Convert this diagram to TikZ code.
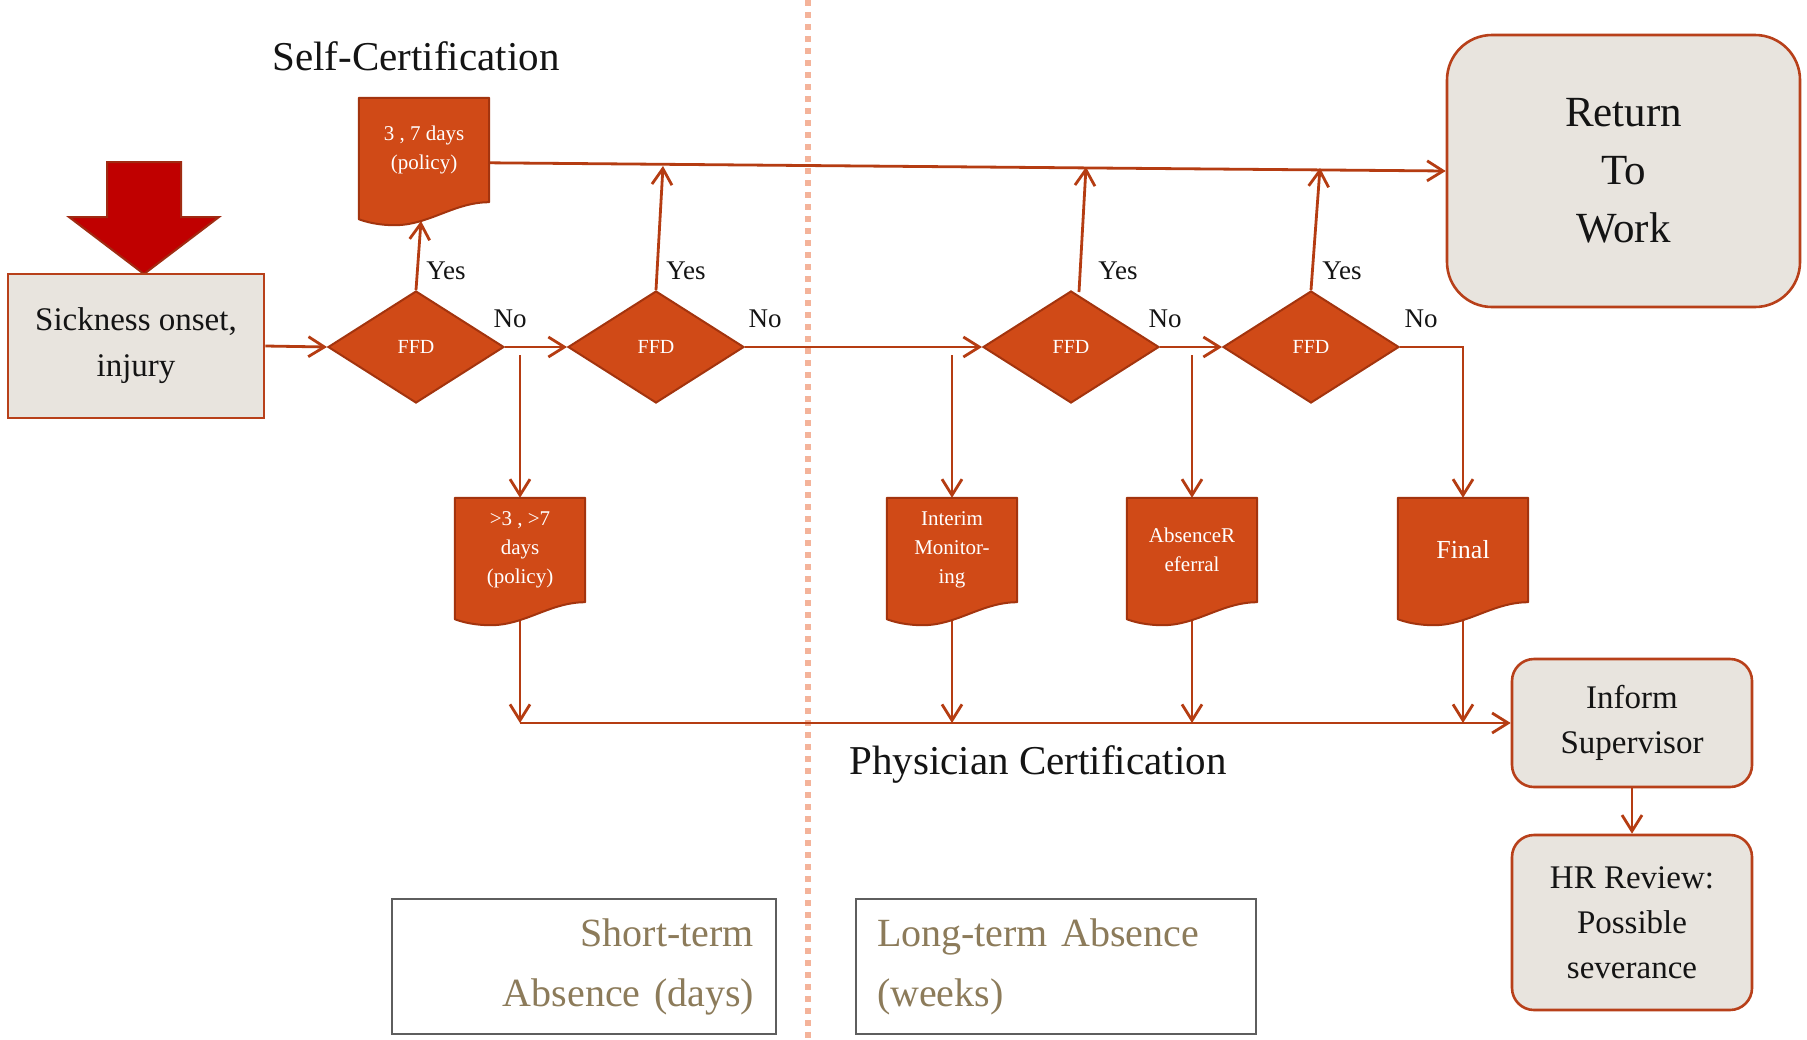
\documentclass[tikz,border=0pt]{standalone}
\usepackage{fontspec}
\setmainfont{Liberation Serif}
\usetikzlibrary{shapes.geometric,arrows.meta,calc}
\pgfdeclarelayer{bg}
\pgfdeclarelayer{mid}
\pgfsetlayers{bg,mid,main}
\definecolor{ofill}{HTML}{D04A17}
\definecolor{oborder}{HTML}{A3340E}
\definecolor{lcol}{HTML}{B53C12}
\definecolor{boxfill}{HTML}{E8E4DE}
\definecolor{boxline}{HTML}{B8401A}
\definecolor{redarr}{HTML}{C00000}
\definecolor{redarrb}{HTML}{A02A12}
\definecolor{dotcol}{HTML}{F4B39A}
\definecolor{khaki}{HTML}{8C7B5A}
\definecolor{termline}{HTML}{5E5E5E}
\definecolor{txt}{HTML}{141414}
\newcommand\fsz[2]{\fontsize{#1}{#2}\selectfont}
\newcommand\docshape[1]{%
  \filldraw[docsh] (#1.north west) -- (#1.north east) -- (#1.south east)
  .. controls ($(#1.south east)+(-35,0)$) and ($(#1.south west)+(70,23)$) .. ($(#1.south west)+(36,23)$)
  .. controls ($(#1.south west)+(20,23)$) and ($(#1.south west)+(8,20)$) .. ($(#1.south west)+(0,17)$) -- cycle;}
\tikzset{
  procbox/.style={draw=boxline, fill=boxfill, line width=2.6pt, align=center, text=txt, inner sep=0pt},
  roundbox/.style={procbox, rounded corners=22pt},
  ffd/.style={diamond, fill=ofill, draw=oborder, line width=2pt, minimum width=176pt, minimum height=112pt, inner sep=0pt, text=white, font=\fsz{20}{24}},
  docnode/.style={minimum width=130pt, minimum height=104pt, inner sep=0pt, align=center, text=white, font=\fsz{21}{29}},
  docsh/.style={fill=ofill, draw=oborder, line width=2pt, line join=round},
  conn/.style={draw=lcol, line width=2.8pt, -{Straight Barb[length=16pt,width=20pt]}},
  lbl/.style={font=\fsz{27}{30}, text=txt, inner sep=0pt},
  ttl/.style={font=\fsz{41}{48}, text=txt, inner sep=0pt},
  termbox/.style={draw=termline, line width=2pt, minimum height=135pt, text=khaki, font=\fsz{40}{60}, inner sep=0pt},
  dotline/.style={draw=dotcol, line width=6pt, dash pattern=on 6pt off 6pt}
}
\begin{document}
\begin{tikzpicture}[x=1pt,y=-1pt]
\useasboundingbox (0,0) rectangle (1807,1039);
\begin{pgfonlayer}{bg}
  \fill[white] (0,0) rectangle (1807,1039);
\end{pgfonlayer}

% red arrow
\filldraw[fill=redarr, draw=redarrb, line width=2pt, line join=miter]
  (107,162) -- (181,162) -- (181,217) -- (219,217) -- (144,274) -- (69,217) -- (107,217) -- cycle;

% titles
\node[ttl] (selfc) at (416,56) {Self-Certification};
\node[ttl] (physc) at (1038,764) {Physician Certification};

% main boxes
\node[procbox, minimum width=256pt, minimum height=144pt, font=\fsz{33}{46}] (sick) at (136,346) {\raisebox{-4pt}{\parbox{240pt}{\centering Sickness onset,\\injury}}};
\node[procbox, rounded corners=45pt, minimum width=353pt, minimum height=272pt, font=\fsz{43}{58}] (ret) at (1623.5,171) {Return\\To\\Work};
\node[roundbox, minimum width=240pt, minimum height=128pt, font=\fsz{33}{45}] (inf) at (1632,723) {Inform\\Supervisor};
\node[roundbox, minimum width=240pt, minimum height=175pt, font=\fsz{33}{45}] (hr) at (1632,922.5) {HR Review:\\Possible\\severance};

% diamonds
\node[ffd] (dia1) at (416,347) {FFD};
\node[ffd] (dia2) at (656,347) {FFD};
\node[ffd] (dia3) at (1071,347) {FFD};
\node[ffd] (dia4) at (1311,347) {FFD};

% documents
\node[docnode] (d1) at (424,150) {3 , 7 days\\(policy)};
\node[docnode] (d2) at (520,550) {>3 , >7\\days\\(policy)};
\node[docnode] (im) at (952,550) {Interim\\Monitor-\\ing};
\node[docnode] (ar) at (1192,550) {AbsenceR\\eferral};
\node[docnode, font=\fsz{26}{30}] (fin) at (1463,550) {Final};
\begin{pgfonlayer}{mid}
  \docshape{d1}
  \docshape{d2}
  \docshape{im}
  \docshape{ar}
  \docshape{fin}
\end{pgfonlayer}

% term boxes
\node[termbox, minimum width=384pt, text width=340pt, align=right] (short) at (584,966.5) {Short-term\\Absence (days)};
\node[termbox, minimum width=400pt, text width=358pt, align=left] (long) at (1056,966.5) {Long-term Absence\\(weeks)};

% labels
\node[lbl] (yes1) at (446,271) {Yes};
\node[lbl] (yes2) at (686,271) {Yes};
\node[lbl] (yes3) at (1118,271) {Yes};
\node[lbl] (yes4) at (1342,271) {Yes};
\node[lbl] (no1) at (510,319) {No};
\node[lbl] (no2) at (765,319) {No};
\node[lbl] (no3) at (1165,319) {No};
\node[lbl] (no4) at (1421,319) {No};

% free ends
\coordinate (d1r) at ($(d1.north east)+(0,65)$);
\coordinate (d1b) at (421,221);
\coordinate (y2) at (663,166);
\coordinate (y3s) at (1079,292);
\coordinate (y3) at (1086,167);
\coordinate (y4) at (1320,168);
\coordinate (s1) at (520,355);
\coordinate (s2) at (952,355);
\coordinate (s3) at (1192,355);
\coordinate (b1) at (520,723);
\coordinate (b2) at (952,723);
\coordinate (b3) at (1192,723);
\coordinate (b4) at (1463,723);

\begin{pgfonlayer}{bg}
  \draw[dotline] (808,0) -- (808,1039);
  \draw[conn] (sick.east) -- (dia1.west);
  \draw[conn] (dia1.east) -- (dia2.west);
  \draw[conn] (dia2.east) -- (dia3.west);
  \draw[conn] (dia3.east) -- (dia4.west);
  \draw[conn] (dia4.east) -| (fin.north);
  \draw[conn] (dia1.north) -- (d1b);
  \draw[conn] (dia2.north) -- (y2);
  \draw[conn] (y3s) -- (y3);
  \draw[conn] (dia4.north) -- (y4);
  \draw[conn] (d1r) -- (ret.west);
  \draw[conn] (s1) -- (d2.north);
  \draw[conn] (s2) -- (im.north);
  \draw[conn] (s3) -- (ar.north);
  \draw[conn] (d2.south) -- (b1);
  \draw[conn] (im.south) -- (b2);
  \draw[conn] (ar.south) -- (b3);
  \draw[conn] (fin.south) -- (b4);
  \draw[conn] (b1) -- (inf.west);
  \draw[conn] (inf.south) -- (hr.north);
\end{pgfonlayer}
\end{tikzpicture}
\end{document}
